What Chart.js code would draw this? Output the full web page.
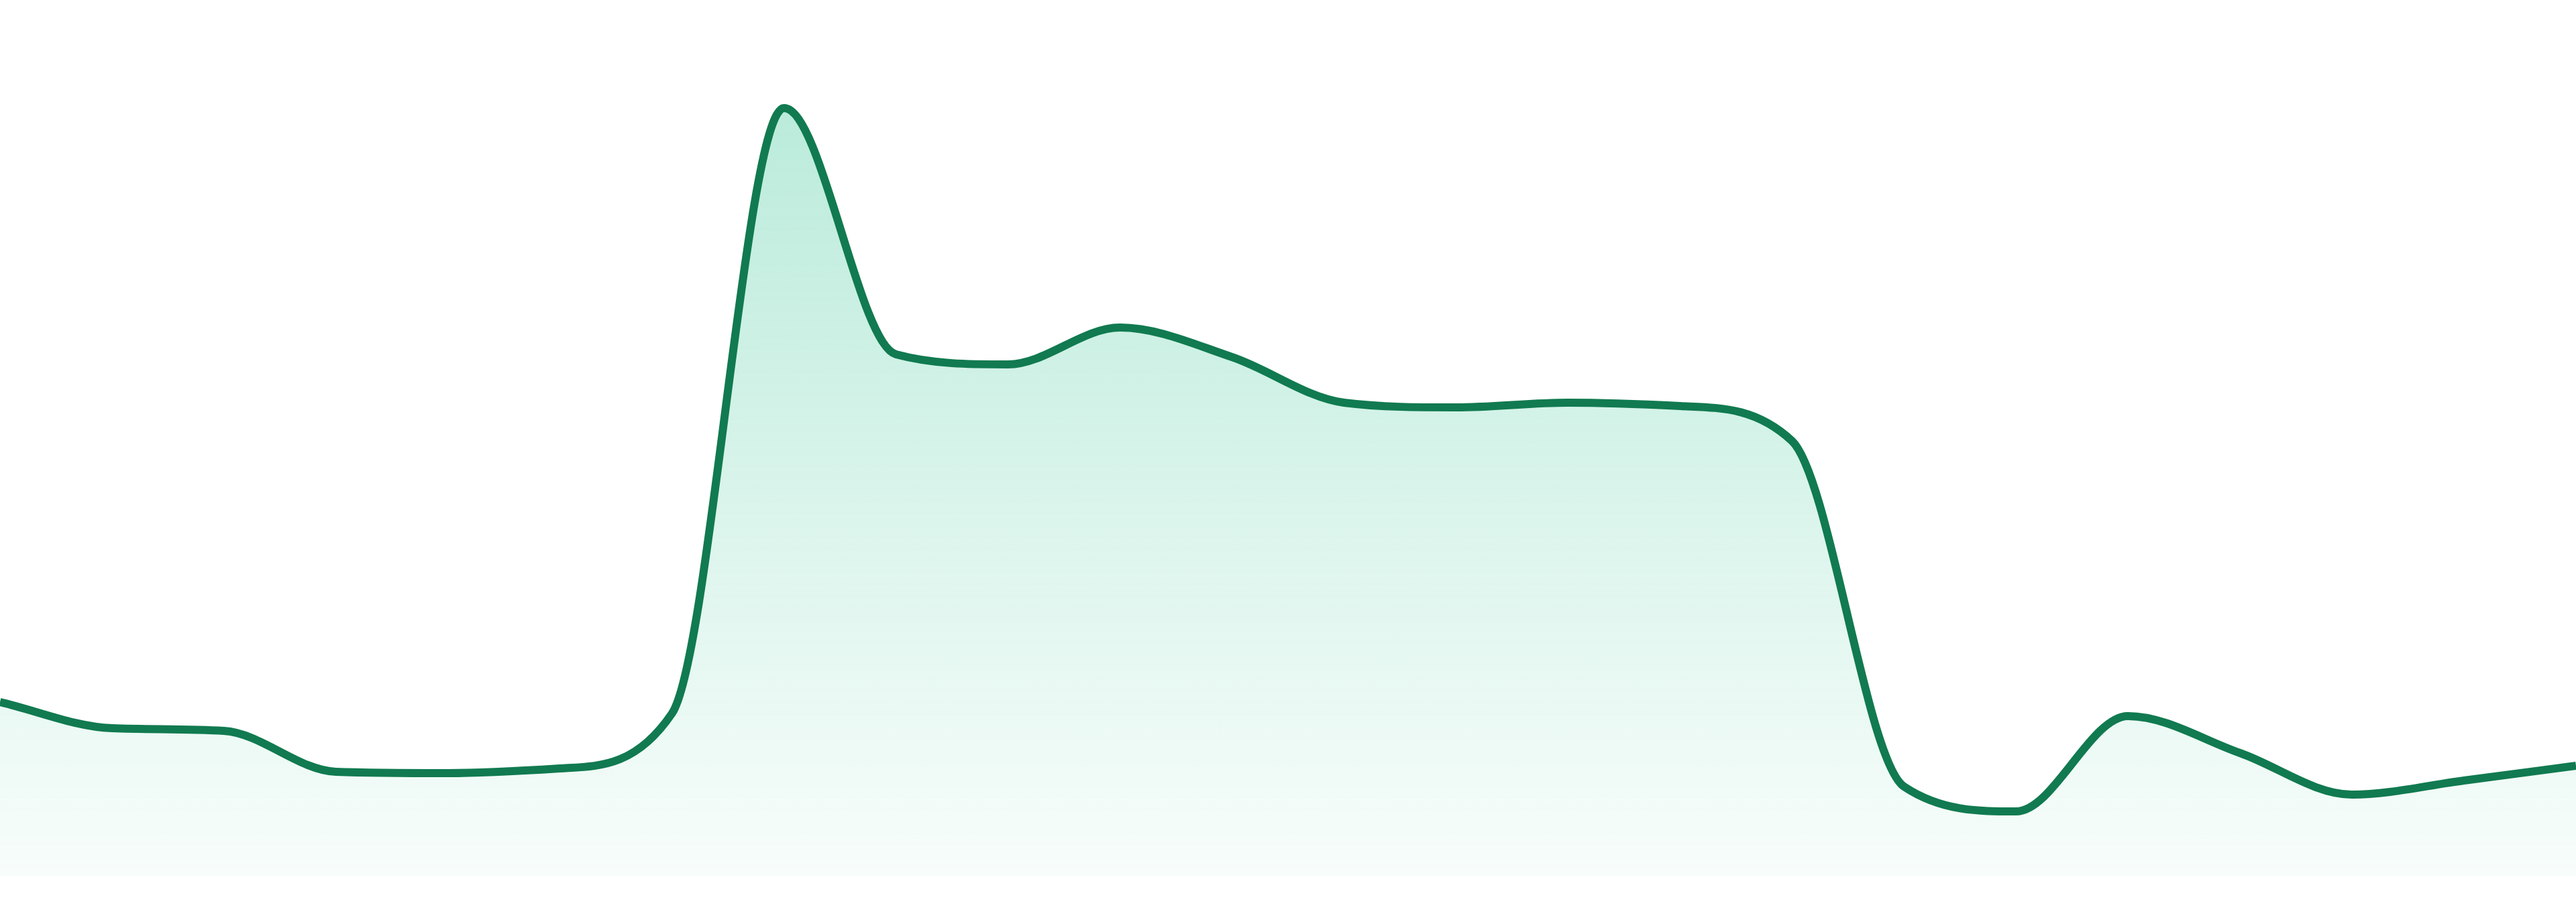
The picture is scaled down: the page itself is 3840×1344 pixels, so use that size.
<!DOCTYPE html>
<html lang="en">
<head>
  <meta charset="UTF-8">
  <title>Area sparkline</title>
  <script src="https://cdn.jsdelivr.net/npm/chart.js@4.4.1/dist/chart.umd.min.js"></script>
  <style>
    html, body { margin: 0; padding: 0; background: #ffffff; overflow: hidden; }
    #wrap { width: 3840px; height: 1344px; position: relative; }
  </style>
</head>
<body>
  <div id="wrap"><canvas id="chart"></canvas></div>
  <script>
    // values (24 evenly spaced samples)
    const labels = ['1', '2', '3', '4', '5', '6', '7', '8', '9', '10', '11', '12',
                    '13', '14', '15', '16', '17', '18', '19', '20', '21', '22', '23', '24'];
    const values = [259, 220, 216, 155, 153, 160, 242, 1144, 777, 762, 817, 773,
                    705, 698, 705, 700, 648, 133, 96, 238, 183, 121, 142, 164];
    const yMin = 0;
    const yMax = 1305;

    const lineColor = '#117a50';

    function fillGradient(context) {
      const chart = context.chart;
      const area = chart.chartArea;
      if (!area) return 'rgba(16,185,129,0.15)';
      const g = chart.ctx.createLinearGradient(0, area.top, 0, area.bottom);
      g.addColorStop(0, 'rgba(16,185,129,0.32)');
      g.addColorStop(1, 'rgba(16,185,129,0.03)');
      return g;
    }

    new Chart(document.getElementById('chart'), {
      type: 'line',
      data: {
        labels: labels,
        datasets: [{
          data: values,
          borderColor: lineColor,
          borderWidth: 12,
          backgroundColor: fillGradient,
          fill: 'start',
          pointRadius: 0,
          cubicInterpolationMode: 'monotone'
        }]
      },
      options: {
        responsive: true,
        maintainAspectRatio: false,
        devicePixelRatio: 1,
        animation: false,
        layout: { padding: { top: 0, bottom: 39, left: 0, right: 0 } },
        scales: {
          x: { display: false, offset: false },
          y: { display: false, min: yMin, max: yMax }
        },
        plugins: {
          legend: { display: false },
          tooltip: { enabled: false }
        }
      }
    });
  </script>
</body>
</html>
